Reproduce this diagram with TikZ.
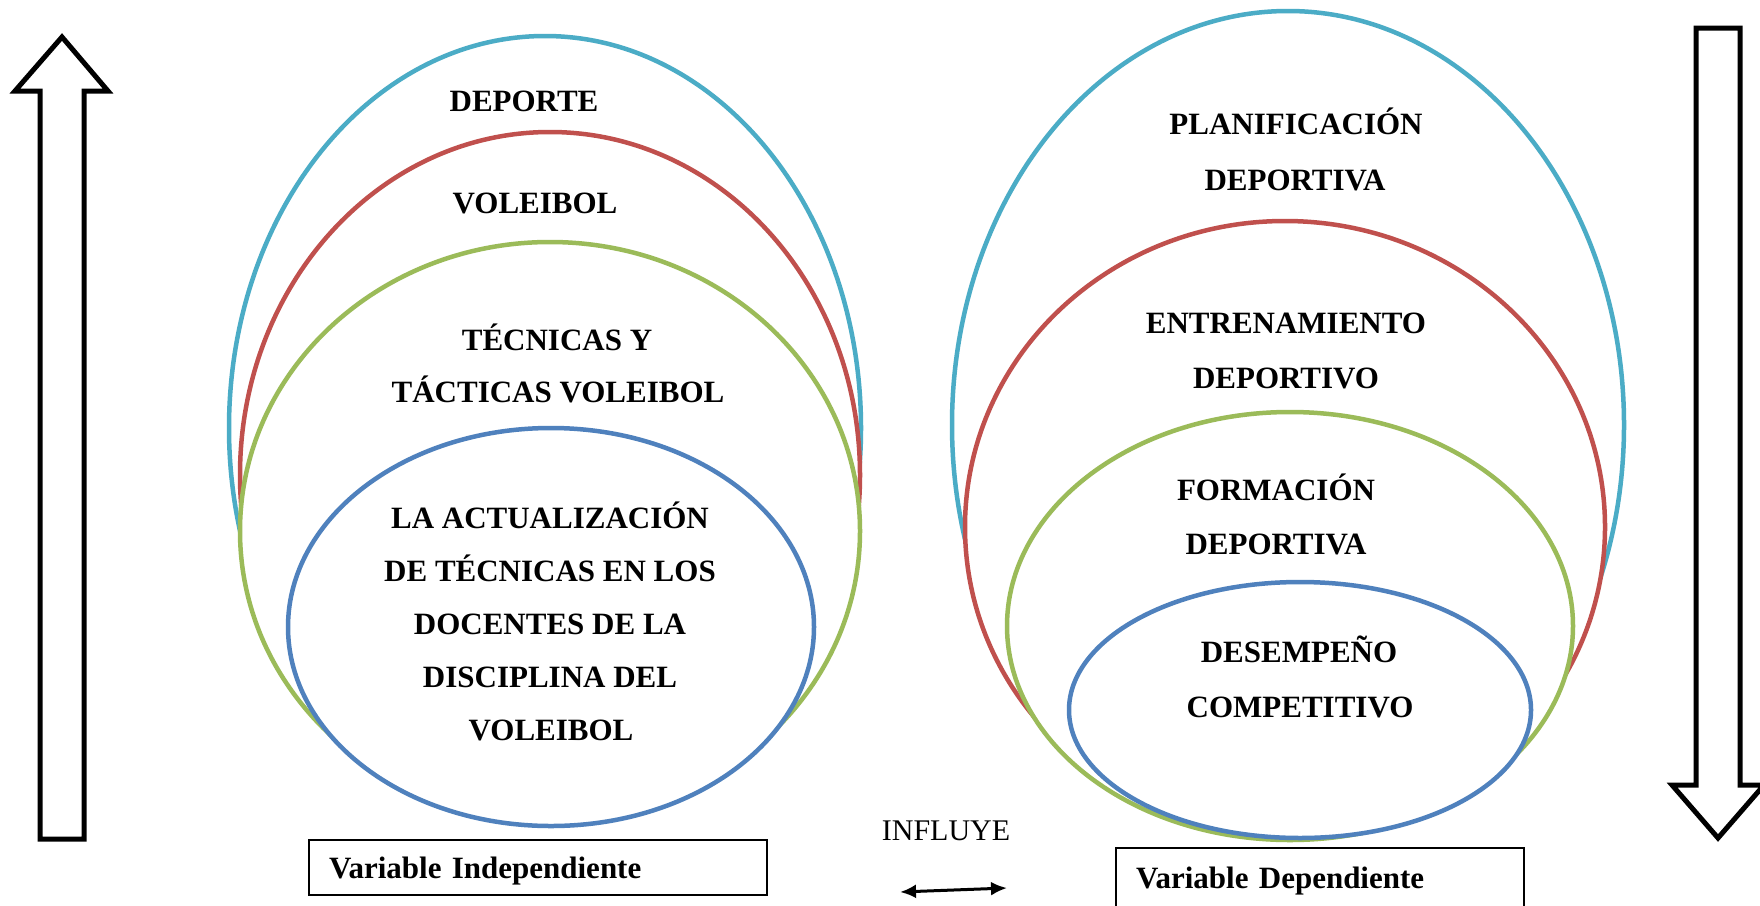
\documentclass[tikz,border=0pt]{standalone}
\usepackage{fontspec}
\setmainfont{Liberation Serif}
\usetikzlibrary{arrows.meta}
\definecolor{ecyan}{HTML}{4BACC6}
\definecolor{ered}{HTML}{C0504D}
\definecolor{egreen}{HTML}{9BBB59}
\definecolor{eblue}{HTML}{4F81BD}
\tikzset{
  ring/.style={line width=4.5pt, fill=white},
  lbl/.style={anchor=base, inner sep=0pt, font=\fontsize{31}{37}\selectfont\bfseries},
  varbox/.style={draw, line width=1.5pt, inner xsep=20pt, align=left,
    text height=21pt, text depth=0pt, font=\fontsize{31}{37}\selectfont\bfseries},
  blockarrow/.style={draw, line width=5pt, line join=miter, fill=white},
  plain/.style={anchor=base, inner sep=0pt, font=\fontsize{30}{36}\selectfont},
}
\begin{document}
\begin{tikzpicture}[x=1pt,y=-1pt]
\clip (0,0) rectangle (1760,905);
\fill[white] (0,0) rectangle (1760,905);

% block arrows
\draw[blockarrow] (40,839) -- (40,91) -- (15,91) -- (62,37) -- (108,91) -- (84,91) -- (84,839) -- cycle;
\draw[blockarrow] (1696,28) -- (1740,28) -- (1740,785) -- (1764,785) -- (1718,838) -- (1672,785) -- (1696,785) -- cycle;

% left group of ellipses
\draw[ring, draw=ecyan]  (545,428) ellipse [x radius=316pt, y radius=392pt];
\draw[ring, draw=ered]   (550,475) ellipse [x radius=310pt, y radius=343pt];
\draw[ring, draw=egreen] (550,531) ellipse [x radius=310pt, y radius=289pt];
\draw[ring, draw=eblue]  (551,627) ellipse [x radius=263pt, y radius=199pt];

% right group of ellipses
\draw[ring, draw=ecyan]  (1288,425) ellipse [x radius=336pt, y radius=414pt];
\draw[ring, draw=ered]   (1285,527) ellipse [x radius=320pt, y radius=306pt];
\draw[ring, draw=egreen] (1290,626) ellipse [x radius=283pt, y radius=214pt];
\draw[ring, draw=eblue]  (1300,710) ellipse [x radius=231pt, y radius=128pt];

% left labels
\node[lbl] (l1) at (524,111) {DEPORTE};
\node[lbl] (l2) at (535,213) {VOLEIBOL};
\node[lbl] (l3) at (557,350) {TÉCNICAS Y};
\node[lbl] (l4) at (558,402) {TÁCTICAS VOLEIBOL};
\node[lbl] (l5) at (550,528) {LA ACTUALIZACIÓN};
\node[lbl] (l6) at (550,581) {DE TÉCNICAS EN LOS};
\node[lbl] (l7) at (550,634) {DOCENTES DE LA};
\node[lbl] (l8) at (550,687) {DISCIPLINA DEL};
\node[lbl] (l9) at (551,740) {VOLEIBOL};

% right labels
\node[lbl] (r1) at (1296,134) {PLANIFICACIÓN};
\node[lbl] (r2) at (1295,190) {DEPORTIVA};
\node[lbl] (r3) at (1286,333) {ENTRENAMIENTO};
\node[lbl] (r4) at (1286,388) {DEPORTIVO};
\node[lbl] (r5) at (1276,500) {FORMACIÓN};
\node[lbl] (r6) at (1276,554) {DEPORTIVA};
\node[lbl] (r7) at (1299,662) {DESEMPEÑO};
\node[lbl] (r8) at (1300,717) {COMPETITIVO};

% variable boxes
\node[varbox, text width=418pt, minimum height=55pt] (vi) at (538,867.5) {Variable Independiente};
\node[varbox, text width=368pt, minimum height=60pt] (vd) at (1320,878) {Variable Dependiente};

% influye
\node[plain] (inf) at (946,840) {INFLUYE};
\coordinate (ia) at (900,892);
\coordinate (ib) at (1007,888);
\draw[line width=3pt, {Latex[length=16pt,width=14pt]}-{Latex[length=16pt,width=14pt]}] (ia) -- (ib);
\end{tikzpicture}
\end{document}
